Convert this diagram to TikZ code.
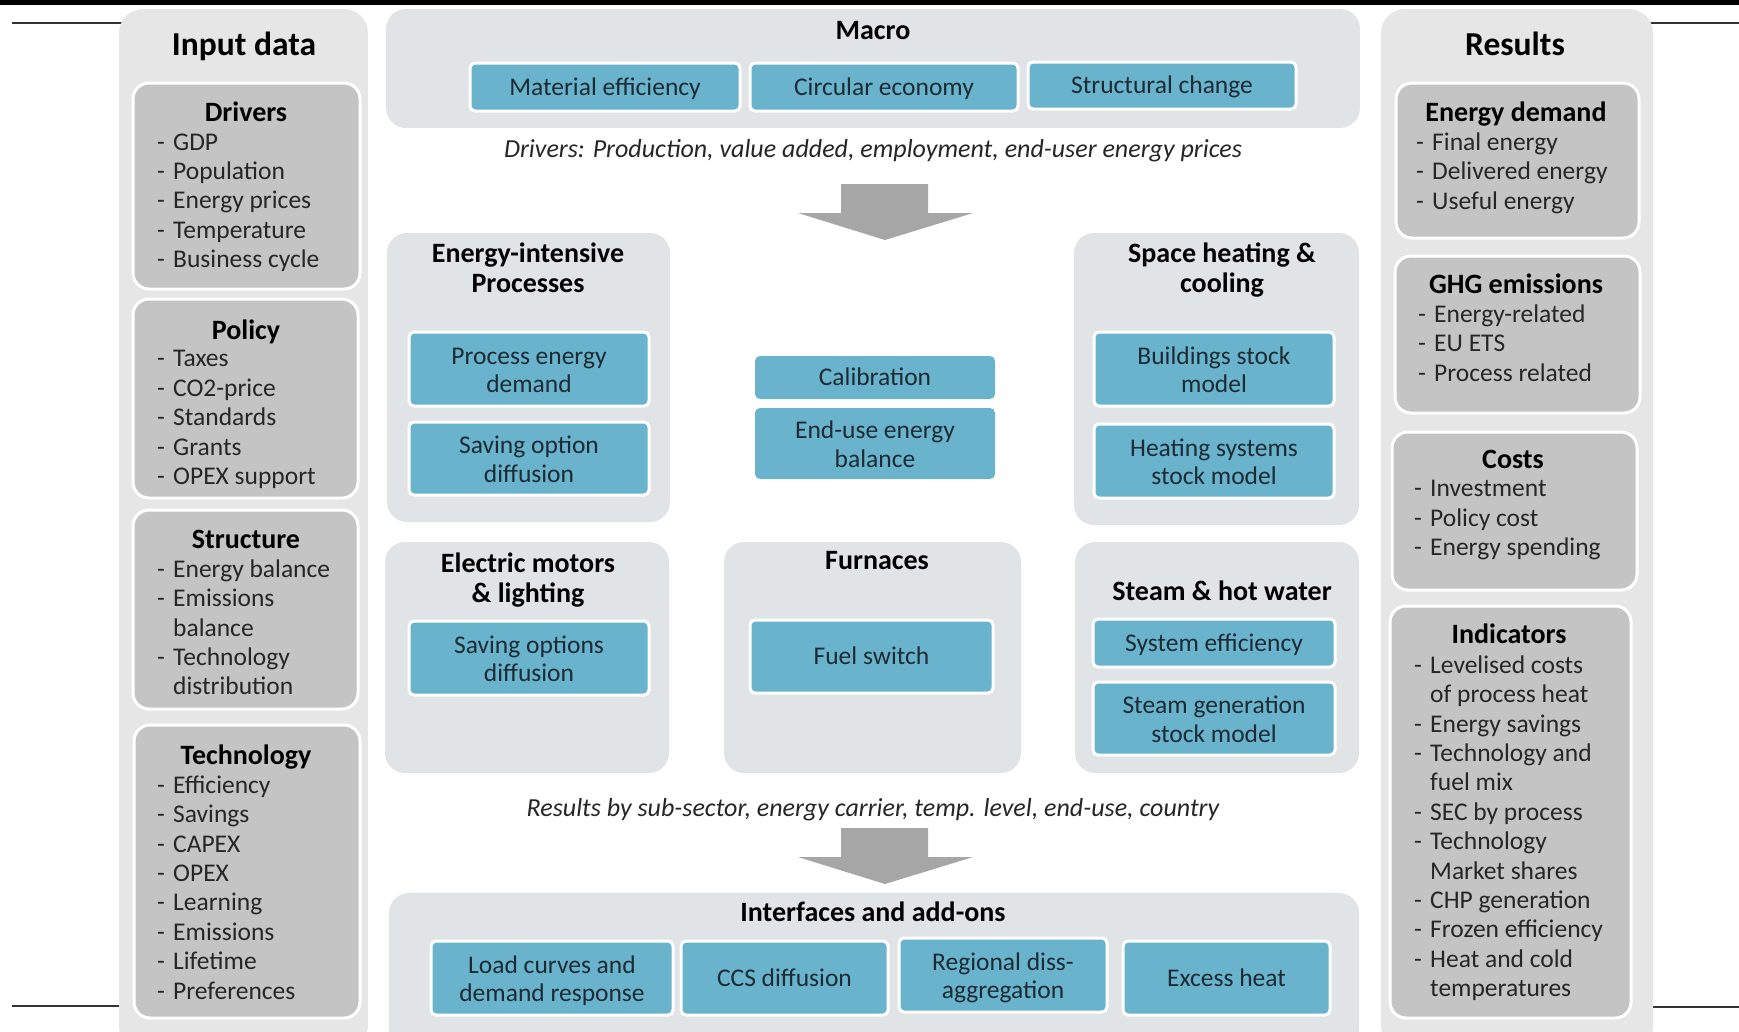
\documentclass[tikz,border=0pt]{standalone}
\usepackage{fontspec}
\setmainfont{Carlito}
\definecolor{sideg}{HTML}{E6E6E6}
\definecolor{midg}{HTML}{E1E4E7}
\definecolor{boxg}{HTML}{C4C4C4}
\definecolor{tealc}{HTML}{69B3CD}
\definecolor{tealtxt}{HTML}{1C2B33}
\definecolor{arrowg}{HTML}{A6A6A6}
\definecolor{lsttxt}{HTML}{262626}
\newcommand\lidash{\makebox[16pt][l]{-}}
\newcommand\licont{\hspace*{16pt}}
\newcommand\tstrut{\rule{0pt}{25pt}}
\newcommand\twol[2]{\rule{0pt}{28pt}#1\\#2\strut}
\newcommand\bx[7]{\node[#2, minimum width={#5-#3}, minimum height={#6-#4}] (#1) at ({(#3+#5)/2},{(#4+#6)/2}) {#7};}
\tikzset{
 sidepanel/.style={fill=sideg, rounded corners=24pt, inner sep=0pt},
 midpanel/.style={fill=midg, rounded corners=20pt, inner sep=0pt},
 gbox/.style={fill=boxg, draw=white, line width=3pt, rounded corners=16pt, inner sep=0pt},
 tbox/.style={fill=tealc, draw=white, line width=3pt, rounded corners=5pt, inner sep=0pt, align=center, text=tealtxt, font=\fontsize{25.5}{28.5}\selectfont, execute at begin node=\tstrut, execute at end node=\strut},
 tboxp/.style={tbox, draw=none},
 bigttl/.style={font=\bfseries\fontsize{33.5}{36}\selectfont, text=black, inner sep=0pt, yshift=-3.5pt, execute at begin node=\strut},
 ttl/.style={font=\bfseries\fontsize{28}{29.5}\selectfont, text=black, inner sep=0pt, align=center, yshift=-5pt, execute at begin node=\strut, execute at end node=\strut},
 lst/.style={font=\fontsize{25.5}{29.4}\selectfont, text=lsttxt, inner sep=0pt, align=left, anchor=north west, yshift=-6pt, execute at begin node=\strut},
 note/.style={font=\itshape\fontsize{26}{28}\selectfont, text=lsttxt, inner sep=0pt, yshift=-3.5pt, execute at begin node=\strut},
 bigarrow/.style={fill=arrowg},
 rulel/.style={line width=1.5pt, draw=black!80}
}
\begin{document}
\begin{tikzpicture}[x=1pt,y=-1pt]
\useasboundingbox (0,0) rectangle (1739,1031);
\clip (0,0) rectangle (1739,1031);
\fill[white] (0,0) rectangle (1739,1031);
\fill[black] (0,0) rectangle (1739,5);
\draw[rulel] (12,23) -- (125,23);
\draw[rulel] (1645,23) -- (1739,23);
\draw[rulel] (12,1006) -- (125,1006);
\draw[rulel] (1645,1007) -- (1739,1007);

% ---------- Input data ----------
\bx{inp}{sidepanel}{119}{9}{368}{1050}{}
\node[bigttl] (inpT) at (244,45) {Input data};
\bx{drv}{gbox}{133}{83}{360}{289}{}
\node[ttl] (drvT) at (246,111) {Drivers};
\node[lst] (drvL) at (157,{141-13.6}) {\lidash GDP\\\lidash Population\\\lidash Energy prices\\\lidash Temperature\\\lidash Business cycle};
\bx{pol}{gbox}{133}{299}{358}{498}{}
\node[ttl] (polT) at (246,329) {Policy};
\node[lst] (polL) at (157,{358-13.6}) {\lidash Taxes\\\lidash CO2-price\\\lidash Standards\\\lidash Grants\\\lidash OPEX support};
\bx{str}{gbox}{133}{510}{358}{709}{}
\node[ttl] (strT) at (246,538) {Structure};
\node[lst] (strL) at (157,{567-13.6}) {\lidash Energy balance\\\lidash Emissions\\\licont balance\\\lidash Technology\\\licont distribution};
\bx{tec}{gbox}{134}{725}{360}{1018}{}
\node[ttl] (tecT) at (246,754) {Technology};
\node[lst] (tecL) at (157,{783-13.6}) {\lidash Efficiency\\\lidash Savings\\\lidash CAPEX\\\lidash OPEX\\\lidash Learning\\\lidash Emissions\\\lidash Lifetime\\\lidash Preferences};

% ---------- Results ----------
\bx{res}{sidepanel}{1381}{9}{1653}{1050}{}
\node[bigttl] (resT) at (1515,45) {Results};
\bx{edm}{gbox}{1396}{83}{1639}{238}{}
\node[ttl] (edmT) at (1516,111) {Energy demand};
\node[lst] (edmL) at (1416,{140-13.6}) {\lidash Final energy\\\lidash Delivered energy\\\lidash Useful energy};
\bx{ghg}{gbox}{1395}{256}{1640}{413}{}
\node[ttl] (ghgT) at (1516,283) {GHG emissions};
\node[lst] (ghgL) at (1418,{312-13.6}) {\lidash Energy-related\\\lidash EU ETS\\\lidash Process related};
\bx{cst}{gbox}{1392}{432}{1637}{590}{}
\node[ttl] (cstT) at (1513,458) {Costs};
\node[lst] (cstL) at (1414,{488-13.6}) {\lidash Investment\\\lidash Policy cost\\\lidash Energy spending};
\bx{ind}{gbox}{1390}{606}{1631}{1018}{}
\node[ttl] (indT) at (1509,633) {Indicators};
\node[lst] (indL) at (1414,{663-13.6}) {\lidash Levelised costs\\\licont of process heat\\\lidash Energy savings\\\lidash Technology and\\\licont fuel mix\\\lidash SEC by process\\\lidash Technology\\\licont Market shares\\\lidash CHP generation\\\lidash Frozen efficiency\\\lidash Heat and cold\\\licont temperatures};

% ---------- Macro ----------
\bx{mac}{midpanel}{386}{9}{1360}{128}{}
\node[ttl] (macT) at (873,29) {Macro};
\bx{me}{tbox}{470}{63}{740}{111}{Material efficiency}
\bx{ce}{tbox}{750}{63}{1018}{111}{Circular economy}
\bx{sc}{tbox}{1028}{62}{1296}{109}{Structural change}
\node[note] (drvN) at (873,148) {Drivers: Production, value added, employment, end-user energy prices};
\fill[bigarrow] (841,184) -- (928,184) -- (928,213) -- (973,213) -- (885,240) -- (798,213) -- (841,213) -- cycle;

% ---------- Modules ----------
\bx{eip}{midpanel}{387}{233}{670}{522}{}
\node[ttl] (eipT) at (528,267) {Energy-intensive\\Processes};
\bx{ped}{tbox}{409}{332}{649}{406}{\twol{Process energy}{demand}}
\bx{sod}{tbox}{409}{422}{649}{495}{\twol{Saving option}{diffusion}}
\bx{cal}{tboxp}{755}{356}{995}{399}{Calibration}
\bx{eub}{tboxp}{755}{408}{995}{479}{\twol{End-use energy}{balance}}
\bx{shc}{midpanel}{1074}{233}{1359}{525}{}
\node[ttl] (shcT) at (1222,267) {Space heating \&\\cooling};
\bx{bsm}{tbox}{1094}{332}{1334}{406}{\twol{Buildings stock}{model}}
\bx{hsm}{tbox}{1094}{424}{1334}{498}{\twol{Heating systems}{stock model}}
\bx{eml}{midpanel}{385}{542}{669}{773}{}
\node[ttl] (emlT) at (528,577) {Electric motors\\\& lighting};
\bx{sds}{tbox}{409}{621}{649}{695}{\twol{Saving options}{diffusion}}
\bx{fur}{midpanel}{724}{542}{1021}{773}{}
\node[ttl] (furT) at (877,559) {Furnaces};
\bx{fsw}{tbox}{750}{620}{993}{693}{Fuel switch}
\bx{shw}{midpanel}{1075}{542}{1359}{773}{}
\node[ttl] (shwT) at (1222,590) {Steam \& hot water};
\bx{sef}{tbox}{1093}{619}{1335}{667}{System efficiency}
\bx{sgm}{tbox}{1093}{682}{1335}{755}{\twol{Steam generation}{stock model}}

\node[note] (resN) at (873,807) {Results by sub-sector, energy carrier, temp. level, end-use, country};
\fill[bigarrow] (841,828) -- (928,828) -- (928,857) -- (973,857) -- (885,884) -- (798,857) -- (841,857) -- cycle;

% ---------- Interfaces ----------
\bx{ifc}{midpanel}{389}{893}{1359}{1050}{}
\node[ttl] (ifcT) at (873,911) {Interfaces and add-ons};
\bx{lcd}{tbox}{431}{941}{673}{1015}{\twol{Load curves and}{demand response}}
\bx{ccs}{tbox}{681}{941}{888}{1015}{CCS diffusion}
\bx{rda}{tbox}{899}{938}{1107}{1012}{\twol{Regional diss-}{aggregation}}
\bx{exh}{tbox}{1123}{941}{1330}{1015}{Excess heat}
\end{tikzpicture}
\end{document}
